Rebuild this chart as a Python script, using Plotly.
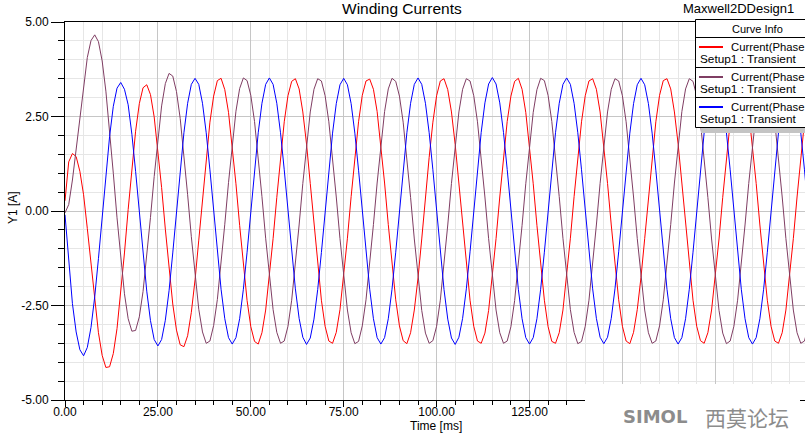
import plotly.graph_objects as go

# ---------------- data ----------------
time_ms = list(range(0, 201))

current_phase_a = [  # red
    0.27, 1.30, 1.52, 1.44, 1.05, 0.43, -0.46, -1.43, -2.39, -3.22, -3.82, -4.14, -4.12, -3.77, -3.11, -2.20, -1.11, 0.04, 1.15, 2.11,
    2.84, 3.26, 3.34, 3.08, 2.49, 1.64, 0.62, -0.48, -1.54, -2.46, -3.15, -3.54, -3.59, -3.30, -2.68, -1.82, -0.77, 0.34, 1.42, 2.35,
    3.04, 3.45, 3.51, 3.21, 2.61, 1.75, 0.72, -0.38, -1.44, -2.37, -3.06, -3.45, -3.52, -3.22, -2.62, -1.76, -0.73, 0.36, 1.43, 2.36,
    3.05, 3.43, 3.50, 3.23, 2.62, 1.77, 0.73, -0.37, -1.42, -2.36, -3.05, -3.44, -3.50, -3.21, -2.61, -1.75, -0.72, 0.38, 1.44, 2.36,
    3.06, 3.44, 3.49, 3.22, 2.63, 1.76, 0.74, -0.36, -1.43, -2.35, -3.04, -3.43, -3.51, -3.22, -2.62, -1.77, -0.74, 0.37, 1.42, 2.35,
    3.05, 3.44, 3.50, 3.21, 2.62, 1.76, 0.73, -0.37, -1.43, -2.36, -3.05, -3.44, -3.50, -3.23, -2.63, -1.76, -0.73, 0.37, 1.43, 2.37,
    3.04, 3.43, 3.51, 3.22, 2.61, 1.75, 0.72, -0.38, -1.44, -2.36, -3.06, -3.45, -3.50, -3.22, -2.62, -1.75, -0.72, 0.38, 1.44, 2.36,
    3.05, 3.44, 3.50, 3.22, 2.62, 1.76, 0.73, -0.37, -1.43, -2.35, -3.05, -3.44, -3.51, -3.21, -2.61, -1.76, -0.73, 0.37, 1.43, 2.36,
    3.06, 3.45, 3.50, 3.23, 2.62, 1.77, 0.74, -0.36, -1.42, -2.36, -3.05, -3.43, -3.50, -3.22, -2.62, -1.76, -0.74, 0.36, 1.42, 2.35,
    3.05, 3.44, 3.50, 3.22, 2.62, 1.76, 0.73, -0.37, -1.43, -2.36, -3.05, -3.44, -3.50, -3.22, -2.62, -1.76, -0.73, 0.37, 1.43, 2.36,
    3.05,
]

current_phase_b = [  # purple
    -0.05, 0.17, 0.82, 1.65, 2.53, 3.37, 4.06, 4.51, 4.66, 4.48, 3.97, 3.17, 2.15, 1.00, -0.18, -1.28, -2.19, -2.85, -3.18, -3.16,
    -2.80, -2.13, -1.22, -0.17, 0.91, 1.93, 2.78, 3.37, 3.64, 3.57, 3.16, 2.45, 1.51, 0.43, -0.68, -1.73, -2.60, -3.20, -3.50, -3.44,
    -3.03, -2.34, -1.41, -0.35, 0.75, 1.78, 2.64, 3.24, 3.52, 3.45, 3.06, 2.37, 1.44, 0.38, -0.72, -1.75, -2.61, -3.21, -3.50, -3.44,
    -3.05, -2.36, -1.43, -0.37, 0.73, 1.76, 2.62, 3.22, 3.50, 3.44, 3.05, 2.36, 1.43, 0.37, -0.73, -1.76, -2.62, -3.22, -3.51, -3.45,
    -3.04, -2.35, -1.42, -0.36, 0.74, 1.77, 2.63, 3.23, 3.51, 3.43, 3.04, 2.35, 1.42, 0.36, -0.74, -1.77, -2.63, -3.23, -3.50, -3.43,
    -3.05, -2.36, -1.43, -0.37, 0.73, 1.76, 2.62, 3.22, 3.50, 3.44, 3.05, 2.36, 1.43, 0.37, -0.73, -1.76, -2.62, -3.22, -3.50, -3.44,
    -3.06, -2.37, -1.44, -0.38, 0.72, 1.75, 2.61, 3.21, 3.51, 3.45, 3.06, 2.37, 1.44, 0.38, -0.72, -1.75, -2.61, -3.21, -3.51, -3.45,
    -3.05, -2.36, -1.43, -0.37, 0.73, 1.76, 2.62, 3.22, 3.50, 3.44, 3.05, 2.36, 1.43, 0.37, -0.73, -1.76, -2.62, -3.22, -3.50, -3.44,
    -3.04, -2.35, -1.42, -0.36, 0.74, 1.77, 2.63, 3.23, 3.50, 3.43, 3.04, 2.35, 1.42, 0.36, -0.74, -1.77, -2.63, -3.23, -3.51, -3.44,
    -3.05, -2.36, -1.43, -0.37, 0.73, 1.76, 2.62, 3.22, 3.50, 3.44, 3.05, 2.36, 1.43, 0.37, -0.73, -1.76, -2.62, -3.22, -3.50, -3.44,
    -3.05,
]

current_phase_c = [  # blue
    -0.10, -1.35, -2.45, -3.20, -3.67, -3.83, -3.61, -3.08, -2.27, -1.26, -0.14, 0.97, 1.97, 2.77, 3.25, 3.40, 3.22, 2.81, 2.03, 1.05,
    -0.05, -1.14, -2.12, -2.90, -3.40, -3.57, -3.40, -2.89, -2.11, -1.11, -0.01, 1.08, 2.07, 2.85, 3.35, 3.51, 3.35, 2.85, 2.07, 1.09,
    0.00, -1.09, -2.07, -2.85, -3.35, -3.52, -3.35, -2.85, -2.07, -1.09, 0.00, 1.09, 2.07, 2.85, 3.35, 3.52, 3.35, 2.85, 2.07, 1.09,
    0.01, -1.08, -2.06, -2.84, -3.34, -3.53, -3.36, -2.86, -2.08, -1.10, -0.01, 1.08, 2.06, 2.84, 3.34, 3.51, 3.34, 2.84, 2.06, 1.08,
    0.00, -1.09, -2.07, -2.85, -3.35, -3.52, -3.35, -2.85, -2.07, -1.09, 0.00, 1.09, 2.07, 2.85, 3.35, 3.52, 3.35, 2.85, 2.07, 1.09,
    -0.01, -1.10, -2.08, -2.86, -3.36, -3.53, -3.34, -2.84, -2.06, -1.08, 0.01, 1.10, 2.08, 2.86, 3.36, 3.53, 3.36, 2.86, 2.08, 1.10,
    0.00, -1.09, -2.07, -2.85, -3.35, -3.52, -3.35, -2.85, -2.07, -1.09, 0.00, 1.09, 2.07, 2.85, 3.35, 3.52, 3.35, 2.85, 2.07, 1.09,
    0.01, -1.08, -2.06, -2.84, -3.34, -3.51, -3.34, -2.84, -2.06, -1.08, -0.01, 1.08, 2.06, 2.84, 3.34, 3.51, 3.34, 2.84, 2.06, 1.08,
    0.00, -1.09, -2.07, -2.85, -3.35, -3.52, -3.35, -2.85, -2.07, -1.09, 0.00, 1.09, 2.07, 2.85, 3.35, 3.52, 3.35, 2.85, 2.07, 1.09,
    0.00, -1.09, -2.07, -2.85, -3.35, -3.52, -3.35, -2.85, -2.07, -1.09, 0.00, 1.09, 2.07, 2.85, 3.35, 3.52, 3.35, 2.85, 2.07, 1.09,
    0.00,
]

series_names = ["Current(PhaseA)", "Current(PhaseB)", "Current(PhaseC)"]
series_colors = ["#ff0000", "#7f3d63", "#0000ff"]
legend_line1 = "Current(Phase"
legend_line2 = "Setup1 : Transient"

y_tick_vals = [-5.0, -2.5, 0.0, 2.5, 5.0]
y_tick_text = ["-5.00", "-2.50", "0.00", "2.50", "5.00"]
# labels at 150 and 175 are hidden under the watermark in the reference
x_tick_vals = [0, 25, 50, 75, 100, 125, 150, 175]
x_tick_text = ["0.00", "25.00", "50.00", "75.00", "100.00", "125.00", "", ""]

title_text = "Winding Currents"
design_text = "Maxwell2DDesign1"
x_title = "Time [ms]"
y_title = "Y1 [A]"
legend_header = "Curve Info"

# ---------------- layout geometry ----------------
W, H = 805, 435
ML, MR, MT, MB = 65, 0, 22, 35
PW, PH = W - ML - MR, H - MT - MB
FONT = "Liberation Sans, Arial, sans-serif"


def px(x):
    return (x - ML) / PW


def py(y):
    return (H - MB - y) / PH


fig = go.Figure()
for yv, name, col in zip([current_phase_a, current_phase_b, current_phase_c], series_names, series_colors):
    fig.add_trace(go.Scatter(x=time_ms, y=yv, mode="lines", name=name,
                             line=dict(color=col, width=1), showlegend=False))

shapes = []
# watermark area (white box hiding lower right of the axis)
shapes.append(dict(type="rect", xref="paper", yref="paper", x0=px(585), x1=px(800), y0=py(384), y1=py(436),
                   fillcolor="white", line=dict(width=0), layer="above"))
# legend shadow
shapes.append(dict(type="rect", xref="paper", yref="paper", x0=px(701), x1=px(806), y0=py(133), y1=py(126),
                   fillcolor="#c4c4c4", line=dict(width=0), layer="above"))
# legend box
shapes.append(dict(type="rect", xref="paper", yref="paper", x0=px(695.5), x1=px(808), y0=py(127.5), y1=py(19.5),
                   fillcolor="white", line=dict(color="black", width=1), layer="above"))
for yy in [37.5, 67.5, 97.5]:
    shapes.append(dict(type="line", xref="paper", yref="paper", x0=px(695.5), x1=px(808), y0=py(yy), y1=py(yy),
                       line=dict(color="black", width=1), layer="above"))
for yy, col in zip([47, 77, 107], series_colors):
    shapes.append(dict(type="line", xref="paper", yref="paper", x0=px(699), x1=px(723), y0=py(yy), y1=py(yy),
                       line=dict(color=col, width=2), layer="above"))

annotations = []
annotations.append(dict(text=title_text, xref="paper", yref="paper", x=px(402), y=py(8), showarrow=False,
                        xanchor="center", yanchor="middle", font=dict(family=FONT, size=15.5, color="black")))
annotations.append(dict(text=design_text, xref="paper", yref="paper", x=px(796), y=py(9), showarrow=False,
                        xanchor="right", yanchor="middle", font=dict(family=FONT, size=13, color="black")))
annotations.append(dict(text=legend_header, xref="paper", yref="paper", x=px(757), y=py(29), showarrow=False,
                        xanchor="center", yanchor="middle", font=dict(family=FONT, size=11, color="black")))
for yy in [47, 77, 107]:
    annotations.append(dict(text=legend_line1, xref="paper", yref="paper", x=px(729), y=py(yy), showarrow=False,
                            xanchor="left", yanchor="middle", font=dict(family=FONT, size=11.3, color="black")))
    annotations.append(dict(text=legend_line2, xref="paper", yref="paper", x=px(698), y=py(yy + 12), showarrow=False,
                            xanchor="left", yanchor="middle", font=dict(family=FONT, size=11.8, color="black")))
annotations.append(dict(text=x_title, xref="paper", yref="paper", x=px(436), y=py(426.5), showarrow=False,
                        xanchor="center", yanchor="middle", font=dict(family=FONT, size=12, color="black")))
annotations.append(dict(text=y_title, xref="paper", yref="paper", x=px(13), y=py(208), showarrow=False,
                        xanchor="center", yanchor="middle", textangle=-90,
                        font=dict(family=FONT, size=12, color="black")))
# watermark text
annotations.append(dict(text="<b>SIMOL</b>", xref="paper", yref="paper", x=px(655), y=py(417), showarrow=False,
                        xanchor="center", yanchor="middle",
                        font=dict(family="DejaVu Sans, sans-serif", size=18, color="#8c8c8c")))
annotations.append(dict(text="西莫论坛", xref="paper", yref="paper", x=px(747), y=py(417), showarrow=False,
                        xanchor="center", yanchor="middle",
                        font=dict(family="Noto Sans CJK SC, sans-serif", size=21, color="#8c8c8c")))

fig.update_layout(
    width=W, height=H,
    margin=dict(l=ML, r=MR, t=MT, b=MB, pad=0),
    paper_bgcolor="white", plot_bgcolor="white",
    font=dict(family=FONT, size=12, color="black"),
    shapes=shapes, annotations=annotations,
    showlegend=False,
    xaxis=dict(range=[0, PW / 3.716], tickvals=x_tick_vals, ticktext=x_tick_text,
               showline=True, linecolor="black", linewidth=1, mirror=True,
               ticks="outside", ticklen=6, tickcolor="black", tickwidth=1,
               ticklabelstandoff=-5,
               showgrid=True, gridcolor="#c6c6c6", gridwidth=1, zeroline=False,
               tickfont=dict(family=FONT, size=12, color="black"),
               minor=dict(dtick=5, tick0=0, ticks="outside", ticklen=4, tickcolor="black",
                          showgrid=True, gridcolor="#e6e6e6", gridwidth=1)),
    yaxis=dict(range=[-5, 5], tickvals=y_tick_vals, ticktext=y_tick_text,
               showline=True, linecolor="black", linewidth=1, mirror=False,
               ticks="outside", ticklen=13, tickcolor="black", tickwidth=1,
               showgrid=True, gridcolor="#c6c6c6", gridwidth=1, zeroline=False,
               tickfont=dict(family=FONT, size=12, color="black"),
               minor=dict(dtick=0.5, tick0=0, ticks="outside", ticklen=6, tickcolor="black",
                          showgrid=True, gridcolor="#e6e6e6", gridwidth=1)),
)

fig.write_html("out.html", config={"displayModeBar": False},
               post_script="document.body.style.margin='0';document.body.style.overflow='hidden';")
